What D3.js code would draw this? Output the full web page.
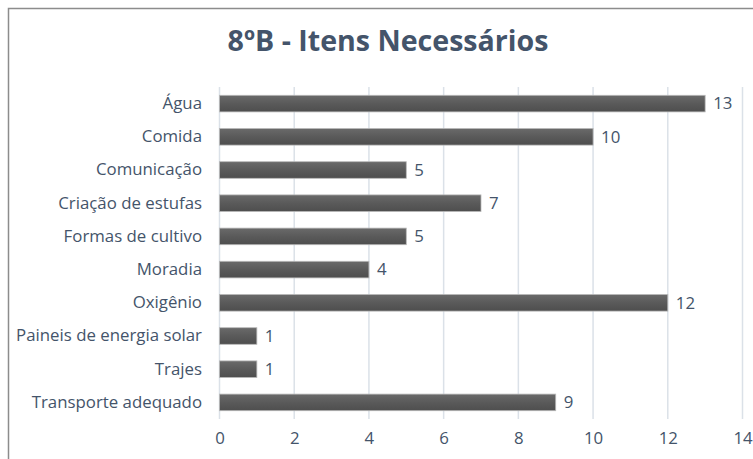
<!DOCTYPE html>
<html><head><meta charset="utf-8">
<script src="https://cdn.jsdelivr.net/npm/d3@7"></script>
<style>body{margin:0;background:#fff}svg{display:block}</style>
</head><body>
<script>
const categories = ["Água","Comida","Comunicação","Criação de estufas","Formas de cultivo","Moradia","Oxigênio","Paineis de energia solar","Trajes","Transporte adequado"];
const values = [13,10,5,7,5,4,12,1,1,9];
const xTicks = [0,2,4,6,8,10,12,14];
const title = "8ºB - Itens Necessários";

const W = 753, H = 459;
const svg = d3.select("body").append("svg").attr("width", W).attr("height", H);
const font = "'Open Sans', sans-serif";
const textColor = "#44546A";

function fitSize(str, target, weight) {
  const t = svg.append("text").attr("font-family",font).attr("font-size",100)
    .attr("font-weight",weight||"normal").text(str);
  const w = t.node().getComputedTextLength();
  t.remove();
  return 100*target/w;
}
const labelSize = fitSize("Paineis de energia solar", 186);
const titleSize = fitSize(title, 321, "bold");

const defs = svg.append("defs");
const grad = defs.append("linearGradient").attr("id","barg").attr("x1",0).attr("y1",0).attr("x2",0).attr("y2",1);
grad.append("stop").attr("offset","0%").attr("stop-color","#6a6a6a");
grad.append("stop").attr("offset","50%").attr("stop-color","#5a5a5a");
grad.append("stop").attr("offset","100%").attr("stop-color","#4e4e4e");

svg.append("rect").attr("x",8.5).attr("y",8.5).attr("width",W+20).attr("height",H+20)
  .attr("fill","#fff").attr("stroke","#8c8c8c").attr("stroke-width",1.5);

const x = d3.scaleLinear().domain([0,14]).range([219.5,742.5]);
const y = d3.scaleBand().domain(categories).range([87,419]).paddingInner(0.5).paddingOuter(0.25);

svg.append("g").selectAll("line").data(xTicks).join("line")
  .attr("x1",d=>x(d)).attr("x2",d=>x(d)).attr("y1",87).attr("y2",419)
  .attr("stroke","#dbe1e8").attr("stroke-width",1.5);

const xAxis = d3.axisBottom(x).tickValues(xTicks).tickSize(0).tickPadding(0);
const gx = svg.append("g").attr("transform","translate(0,432)").call(xAxis);
gx.select(".domain").remove();
gx.selectAll("text").attr("font-family",font).attr("font-size",labelSize).attr("fill",textColor);

const yAxis = d3.axisLeft(y).tickSize(0).tickPadding(0);
const gy = svg.append("g").attr("transform","translate(202,0)").call(yAxis);
gy.select(".domain").remove();
gy.selectAll("text").attr("font-family",font).attr("font-size",labelSize).attr("fill",textColor);

const data = categories.map((c,i)=>({c, v: values[i]}));
svg.append("g").selectAll("rect").data(data).join("rect")
  .attr("x",x(0)).attr("y",d=>y(d.c))
  .attr("width",d=>x(d.v)-x(0)).attr("height",y.bandwidth())
  .attr("fill","url(#barg)").attr("stroke","#b8b8b8").attr("stroke-width",0.8);

svg.append("g").selectAll("text").data(data).join("text")
  .attr("x",d=>x(d.v)+8).attr("y",d=>y(d.c)+y.bandwidth()/2).attr("dy","0.35em")
  .attr("font-family",font).attr("font-size",labelSize).attr("fill",textColor)
  .text(d=>d.v);

svg.append("text").attr("x",388).attr("y",51).attr("text-anchor","middle")
  .attr("font-family",font).attr("font-weight","bold").attr("font-size",titleSize)
  .attr("fill",textColor).text(title);
</script>
</body></html>
